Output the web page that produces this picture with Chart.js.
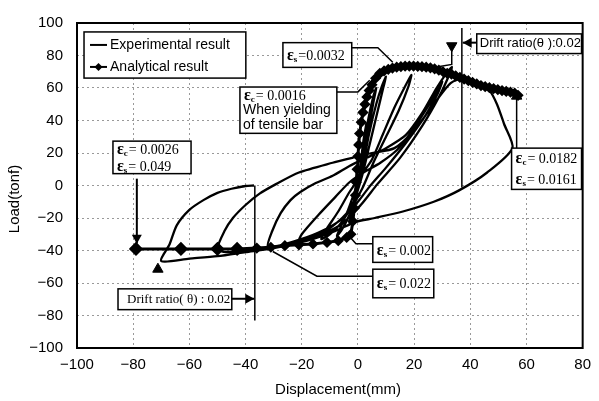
<!DOCTYPE html>
<html>
<head>
<meta charset="utf-8">
<script src="https://cdn.jsdelivr.net/npm/chart.js@4.4.0/dist/chart.umd.min.js"></script>
<style>
html,body{margin:0;padding:0;background:#fff;}
</style>
</head>
<body>
<canvas id="load-chart" width="599" height="401"></canvas>
<script>
// experimental hysteresis (displacement mm, load tonf)
let expX = [0,1,2,3,2.6,1.4,0,-1.5,-3,-2.6,-1.2,
    0.3,2,3.6,5.5,6.5,5.6,3.5,1.5,-0.5,-3,-6,-7.5,-6.5,-3.5,-1,
    1.5,4,6.5,8.5,10,9,6.5,4,1.5,-1.5,-6,-10,-13,-12,-7,-3,
    1,5,9,13,16.5,19,18,14.5,10,5.5,1.5,-3,-9,-15,-21,-20,-14,-8,-3,
    2,8,14,19,24,27.5,30,28.5,24,17,10,4,0,-6,-14,-23,-32,-30.5,-27.5,-24,-20.5,-15,-9,-3,
    3,10,17,23,28,31.5,33.5,32.5,29,23,15,7,1,-6,-16,-28,-40,-47,-50,-47.5,-44.5,-40,-35,-29,-21,-9,-2,
    5,13,20,27,33,38,43,47,49.5,52,55,46,36,27,16,6,-1,-8,-18,-30,-40,-50,-60,-70,-67,-64.5,-60,-55,-50,-45,-40,-37];
let expY = [0,14,28,38,34,18,2,-12,-23,-20,-8,
    4,22,40,55,60,52,32,12,-5,-18,-28,-31,-27,-15,-3,
    10,32,50,61,67,60,42,24,6,-10,-23,-30,-33,-29,-16,-4,
    6,16,32,48,60,68,61,46,30,14,-2,-15,-25,-31,-34.5,-30,-18,-7,2,
    8,14,22,33,46,56,64,57,43,26,11,-1,-10,-21,-29,-34.5,-38,-28,-17,-9,-4,1.5,6,12,
    17,23,31,45,60,69,73,68,55,37,17,1,-12,-24,-32,-37,-40,-41,-39,-28,-20,-12,-5,1,8,14,17,
    20,23,34,50,63,66,62,58,50,38,23,8,-3,-10,-16,-20,-22.5,-28,-34,-38.5,-41,-43.5,-45,-46.5,-36,-24.5,-15,-9,-4.5,-2,-0.3,0];

// analytical result (diamonds)
let anaX = [-79,-63,-50,-43,-36,-31,-26,-21,-16,-11,-7,-4,-2.5,-1.8,-1.3,-0.9,-0.6,-0.3,0,0.3,0.6,1.2,1.8,2.5,3.2,4,5,
    6.3,7.8,9.3,10.8,12.3,13.8,15.3,16.8,18.3,19.8,21.3,22.8,24.3,25.8,27.3,28.8,30.3,31.8,33.3,34.8,36.3,37.8,
    39.3,40.8,42.3,43.8,45.3,46.8,48.3,49.8,51.3,52.8,54.3,55.8,57];
let anaY = [-39,-39,-39,-39,-38.5,-38,-37,-36.5,-36,-35,-34,-32,-30,-22,-14,-6,2,10,18,25,32,39,45,50,54.5,58.5,62,
    66,69,70.5,71.5,72.3,72.8,73.2,73.4,73.5,73.5,73.3,73.1,72.8,72.4,71.8,71,70,69,68.5,67.5,66.5,65.5,
    64.5,63.5,62.5,61.5,60.8,60.2,59.6,59,58.4,57.9,57.4,56.8,55.5];
let anaBig = [-79,-63,-50,-43];

// triangle marks
let triX = [33.4,-71.2,56.5];
let triY = [86,-51.5,55];
let triRot = [180,0,0];

let xTicks = [-100,-80,-60,-40,-20,0,20,40,60,80];
let yTicks = [-100,-80,-60,-40,-20,0,20,40,60,80,100];

const toPts = (xa, ya) => xa.map((x, i) => ({x: x, y: ya[i]}));
const minus = v => v < 0 ? '\u2212' + Math.abs(v) : '' + v;

const SANS = '"Liberation Sans", Arial, sans-serif';
const SERIF = '"Liberation Serif", "Times New Roman", serif';

function epsLine(ctx, x, y, sub, val) {
    ctx.textBaseline = 'alphabetic';
    ctx.textAlign = 'left';
    ctx.font = 'bold 16px ' + SERIF;
    ctx.fillText('\u03b5', x, y + 5);
    let w = ctx.measureText('\u03b5').width;
    ctx.font = 'bold 9px ' + SERIF;
    ctx.fillText(sub, x + w, y + 7);
    let w2 = ctx.measureText(sub).width;
    ctx.font = '14px ' + SERIF;
    ctx.fillText(val, x + w + w2 + 1, y + 5);
}

// annotation boxes, given in data units
const notes = [
    {box: [-26.7, 87.9, -2.2, 72.7], leader: [[-2.2, 84.8], [7.1, 84.8], [12.4, 75.8]],
        lines: [{sub: 's', val: '=0.0032'}]},
    {box: [-42.0, 60.6, -7.5, 32.1], leader: [[-7.5, 57.6], [0, 57.6], [4.2, 64.8]],
        lines: [{sub: 'c', val: '= 0.0016'}, {text: 'When yielding'}, {text: 'of tensile bar'}]},
    {box: [-87.2, 27.3, -59.4, 7.3], arrow: [[-78.7, 4.2], [-78.7, -35.8]],
        lines: [{sub: 'c', val: '= 0.0026'}, {sub: 's', val: '= 0.049'}]},
    {box: [54.7, 23.0, 79.6, -2.4], leader: [[56.5, 23.0], [56.5, 53.3]],
        lines: [{sub: 'c', val: '= 0.0182'}, {sub: 's', val: '= 0.0161'}]},
    {box: [5.3, -31.5, 26.6, -47.3], leader: [[5.3, -35.8], [-0.7, -35.8], [-2.9, -31.5]],
        lines: [{sub: 's', val: '= 0.002'}]},
    {box: [5.3, -51.5, 27.0, -69.1], leader: [[5.3, -55.8], [-14.6, -55.8], [-30.3, -40.6]],
        lines: [{sub: 's', val: '= 0.022'}]},
    {box: [-85.4, -63.6, -44.9, -76.4], arrow: [[-44.9, -69.7], [-36.9, -69.7]],
        lines: [{text: 'Drift ratio( \u03b8) : 0.02', font: '13px ' + SERIF, dx: 9}]},
    {box: [42.3, 93.3, 79.6, 81.2], arrow: [[42.3, 87.9], [37.3, 87.9]],
        lines: [{text: 'Drift ratio(\u03b8 ):0.02', font: '13px ' + SANS, dx: 3}]}
];

const extraLines = [
    [[-36.7, 0], [-36.7, -83]],      // drift ratio, negative side
    [[37.0, 97], [37.0, -1.2]],      // drift ratio, positive side
    [[33.4, 84], [33.4, 74.5], [29.1, 73.3]]
];

const annotate = {
    id: 'annotate',
    afterDatasetsDraw(chart) {
        const ctx = chart.ctx, xs = chart.scales.x, ys = chart.scales.y, a = chart.chartArea;
        const P = (p) => [xs.getPixelForValue(p[0]), ys.getPixelForValue(p[1])];
        ctx.save();
        ctx.strokeStyle = '#000';
        ctx.fillStyle = '#000';

        // frame
        ctx.lineWidth = 2;
        ctx.strokeRect(a.left, a.top, a.right - a.left, a.bottom - a.top);

        ctx.lineWidth = 1.5;
        const poly = pts => {
            ctx.beginPath();
            pts.forEach((p, i) => { let q = P(p); i ? ctx.lineTo(q[0], q[1]) : ctx.moveTo(q[0], q[1]); });
            ctx.stroke();
        };
        extraLines.forEach(poly);

        notes.forEach(n => {
            if (n.leader) poly(n.leader);
            if (n.arrow) {
                let s = P(n.arrow[0]), e = P(n.arrow[1]);
                ctx.lineWidth = 2;
                ctx.beginPath(); ctx.moveTo(s[0], s[1]); ctx.lineTo(e[0], e[1]); ctx.stroke();
                let ang = Math.atan2(e[1] - s[1], e[0] - s[0]);
                ctx.beginPath();
                ctx.moveTo(e[0], e[1]);
                ctx.lineTo(e[0] - 9 * Math.cos(ang) + 5 * Math.sin(ang), e[1] - 9 * Math.sin(ang) - 5 * Math.cos(ang));
                ctx.lineTo(e[0] - 9 * Math.cos(ang) - 5 * Math.sin(ang), e[1] - 9 * Math.sin(ang) + 5 * Math.cos(ang));
                ctx.closePath(); ctx.fill();
                ctx.lineWidth = 1.5;
            }
            let tl = P([n.box[0], n.box[1]]), br = P([n.box[2], n.box[3]]);
            ctx.fillStyle = '#fff';
            ctx.fillRect(tl[0], tl[1], br[0] - tl[0], br[1] - tl[1]);
            ctx.fillStyle = '#000';
            ctx.strokeRect(tl[0], tl[1], br[0] - tl[0], br[1] - tl[1]);
            let h = (br[1] - tl[1]) / n.lines.length;
            n.lines.forEach((l, i) => {
                let cy = tl[1] + h * (i + 0.5);
                if (l.text) {
                    ctx.font = l.font || ('14px ' + SANS);
                    ctx.textAlign = 'left';
                    ctx.textBaseline = 'middle';
                    ctx.fillText(l.text, tl[0] + (l.dx || 3), cy);
                } else {
                    epsLine(ctx, tl[0] + 4, cy, l.sub, l.val);
                }
            });
        });

        // legend box
        let lt = P([-97.5, 94.5]), lb = P([-39.9, 66.1]);
        ctx.fillStyle = '#fff';
        ctx.fillRect(lt[0], lt[1], lb[0] - lt[0], lb[1] - lt[1]);
        ctx.fillStyle = '#000';
        ctx.strokeRect(lt[0], lt[1], lb[0] - lt[0], lb[1] - lt[1]);
        let r1 = lt[1] + 13, r2 = lt[1] + 35;
        ctx.lineWidth = 2;
        ctx.beginPath(); ctx.moveTo(lt[0] + 6, r1); ctx.lineTo(lt[0] + 23, r1); ctx.stroke();
        ctx.beginPath(); ctx.moveTo(lt[0] + 6, r2); ctx.lineTo(lt[0] + 23, r2); ctx.stroke();
        let cx = lt[0] + 14.5;
        ctx.beginPath(); ctx.moveTo(cx, r2 - 4); ctx.lineTo(cx + 4, r2); ctx.lineTo(cx, r2 + 4); ctx.lineTo(cx - 4, r2); ctx.closePath(); ctx.fill();
        ctx.font = '14px ' + SANS;
        ctx.textAlign = 'left';
        ctx.textBaseline = 'middle';
        ctx.fillText('Experimental result', lt[0] + 26, r1);
        ctx.fillText('Analytical result', lt[0] + 26, r2);

        // axis titles
        ctx.font = '15px ' + SANS;
        ctx.textAlign = 'center';
        ctx.fillText('Displacement(mm)', 338, 390);
        ctx.translate(15, 199);
        ctx.rotate(-Math.PI / 2);
        ctx.fillText('Load(tonf)', 0, 0);
        ctx.restore();
    }
};

const loadConfig = {
    type: 'scatter',
    data: {
        datasets: [
            {
                label: 'Experimental result',
                data: toPts(expX, expY),
                showLine: true,
                borderColor: '#000',
                borderWidth: 2.3,
                tension: 0.25,
                pointRadius: 0,
                order: 2
            },
            {
                label: 'Analytical result',
                data: toPts(anaX, anaY),
                showLine: true,
                borderColor: '#000',
                backgroundColor: '#000',
                borderWidth: 3,
                pointStyle: 'rectRot',
                pointRadius: anaX.map(x => anaBig.includes(x) ? 5 : 3.5),
                order: 1
            },
            {
                label: 'marks',
                data: toPts(triX, triY),
                pointStyle: 'triangle',
                rotation: triRot,
                pointRadius: 6,
                backgroundColor: '#000',
                borderColor: '#000',
                order: 0
            }
        ]
    },
    options: {
        responsive: false,
        animation: false,
        layout: {padding: {top: 18, right: 16, left: 0, bottom: 0}},
        plugins: {legend: {display: false}, tooltip: {enabled: false}},
        scales: {
            x: {
                min: -100, max: 80,
                afterBuildTicks: s => { s.ticks = xTicks.map(v => ({value: v})); },
                afterFit: s => { s.height = 53; },
                ticks: {color: '#000', padding: 8, font: {size: 15, family: SANS}, callback: minus},
                grid: {color: 'rgba(0,0,0,0.4)', drawTicks: false, lineWidth: 1},
                border: {display: false, dash: [2, 3]}
            },
            y: {
                min: -100, max: 100,
                afterBuildTicks: s => { s.ticks = yTicks.map(v => ({value: v})); },
                afterFit: s => { s.width = 77; },
                ticks: {color: '#000', padding: 14, font: {size: 15, family: SANS}, callback: minus},
                grid: {color: 'rgba(0,0,0,0.4)', drawTicks: false, lineWidth: 1},
                border: {display: false, dash: [2, 3]}
            }
        }
    },
    plugins: [annotate]
};

const loadChart = new Chart(document.getElementById('load-chart'), loadConfig);
</script>
</body>
</html>
